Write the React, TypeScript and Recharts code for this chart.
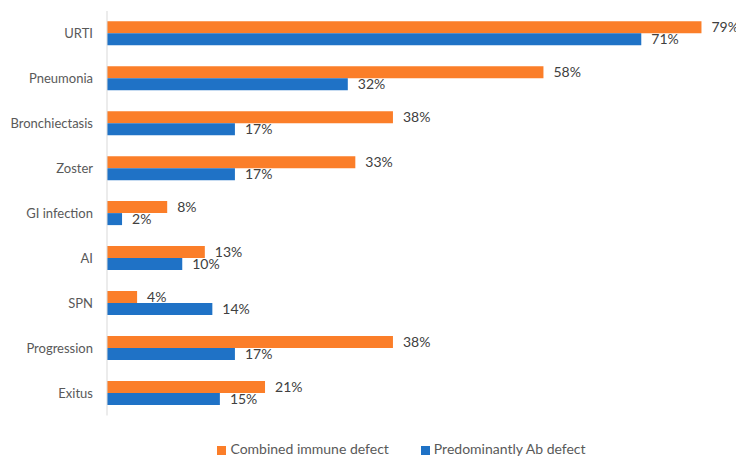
import { BarChart, Bar, XAxis, YAxis, LabelList, Legend } from "recharts";

const categories = [
  "URTI",
  "Pneumonia",
  "Bronchiectasis",
  "Zoster",
  "GI infection",
  "AI",
  "SPN",
  "Progression",
  "Exitus",
];
const combined = [79, 58, 38, 33, 8, 13, 4, 38, 21];
const predominantlyAb = [71, 32, 17, 17, 2, 10, 14, 17, 15];

const ORANGE = "#FB7E29";
const BLUE = "#1F72C6";
const FONT = "Lato, 'Noto Sans', sans-serif";

const data = categories.map((name, i) => ({
  name,
  combined: combined[i],
  ab: predominantlyAb[i],
}));

export default function App() {
  return (
    <div style={{ width: 744, height: 465, margin: -8, fontFamily: FONT }}>
      <BarChart
        width={744}
        height={465}
        data={data}
        layout="vertical"
        margin={{ top: 11, right: 35, left: 0, bottom: 0 }}
        barCategoryGap="23%"
        barGap={0}
      >
        <XAxis type="number" domain={[0, 80]} hide />
        <YAxis
          type="category"
          dataKey="name"
          width={107}
          axisLine={{ stroke: "#D9D9D9" }}
          tickLine={false}
          tickMargin={8}
          tick={{ fill: "#595959", fontSize: 13, fontFamily: FONT }}
        />
        <Legend
          verticalAlign="bottom"
          iconType="square"
          iconSize={9}
          height={25}
          wrapperStyle={{ fontSize: 14, paddingTop: 24.5, paddingLeft: 63 }}
          formatter={(v) => <span style={{ color: "#595959", marginRight: 22 }}>{v}</span>}
        />
        <Bar
          dataKey="combined"
          name="Combined immune defect"
          fill={ORANGE}
          isAnimationActive={false}
        >
          <LabelList
            dataKey="combined"
            position="right"
            offset={10}
            formatter={(v) => `${v}%`}
            style={{ fill: "#404040", fontSize: 14, fontFamily: FONT }}
          />
        </Bar>
        <Bar
          dataKey="ab"
          name="Predominantly Ab defect"
          fill={BLUE}
          isAnimationActive={false}
        >
          <LabelList
            dataKey="ab"
            position="right"
            offset={10}
            formatter={(v) => `${v}%`}
            style={{ fill: "#404040", fontSize: 14, fontFamily: FONT }}
          />
        </Bar>
      </BarChart>
    </div>
  );
}
